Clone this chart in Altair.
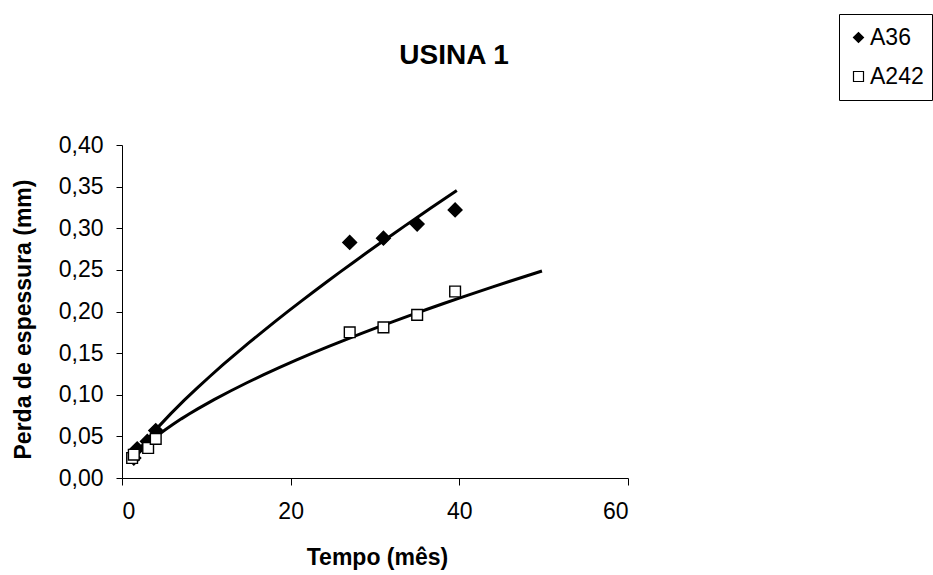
import altair as alt
import pandas as pd

# Data
a36_t = [1.4, 1.8, 3.0, 4.0, 27.0, 31.0, 35.0, 39.5]
a36_perda = [0.024, 0.035, 0.044, 0.057, 0.283, 0.288, 0.305, 0.322]
a242_t = [1.2, 1.4, 3.1, 4.0, 27.0, 31.0, 35.0, 39.5]
a242_perda = [0.024, 0.028, 0.036, 0.047, 0.175, 0.181, 0.196, 0.224]
series = ["A36", "A242"]
x_ticks = [0, 20, 40, 60]
y_ticks = [0.0, 0.05, 0.10, 0.15, 0.20, 0.25, 0.30, 0.35, 0.40]

df = pd.DataFrame(
    {
        "t": a36_t + a242_t,
        "perda": a36_perda + a242_perda,
        "serie": [series[0]] * len(a36_t) + [series[1]] * len(a242_t),
    }
)

FONT = "Liberation Sans"

x_enc = alt.X(
    "t:Q",
    scale=alt.Scale(domain=[0, 60], nice=False, zero=False),
    axis=alt.Axis(
        values=x_ticks,
        grid=False,
        tickSize=7,
        labelFontSize=23,
        labelPadding=15,
        title="Tempo (mês)",
        titleFontSize=23,
        titleFontWeight="bold",
        titleX=255,
        titleY=86,
        titleBaseline="alphabetic",
        titleAlign="center",
    ),
)
y_enc = alt.Y(
    "perda:Q",
    scale=alt.Scale(domain=[0, 0.4], nice=False),
    axis=alt.Axis(
        values=y_ticks,
        grid=False,
        tickSize=6,
        labelFontSize=23,
        labelPadding=13,
        labelExpr="replace(format(datum.value, '.2f'), '.', ',')",
        title="Perda de espessura (mm)",
        titleFontSize=23,
        titleFontWeight="bold",
        titleAngle=270,
        titleX=-99,
        titleY=174,
        titleBaseline="middle",
        titleAlign="center",
    ),
)

legend = alt.Legend(
    title=None,
    orient="none",
    legendX=717,
    legendY=-131,
    symbolStrokeColor="black",
    symbolStrokeWidth=1.2,
)
shape_enc = alt.Shape(
    "serie:N",
    scale=alt.Scale(domain=series, range=["diamond", "square"]),
    legend=legend,
)
fill_enc = alt.Fill(
    "serie:N",
    scale=alt.Scale(domain=series, range=["black", "white"]),
    legend=legend,
)
stroke_enc = alt.Stroke(
    "serie:N",
    scale=alt.Scale(domain=series, range=["black", "black"]),
    legend=legend,
)


def point_layer(name, size):
    return (
        alt.Chart(df)
        .transform_filter(alt.datum.serie == name)
        .mark_point(filled=True, strokeWidth=1.4, opacity=1, size=size)
        .encode(x=x_enc, y=y_enc, shape=shape_enc, fill=fill_enc, stroke=stroke_enc)
    )


def trend_layer(name, extent):
    return (
        alt.Chart(df)
        .transform_filter(alt.datum.serie == name)
        .transform_regression("t", "perda", method="pow", extent=extent)
        .mark_line(color="black", strokeWidth=3)
        .encode(x=x_enc, y=y_enc)
    )


chart = (
    alt.layer(
        trend_layer("A36", [1.2, 39.7]),
        trend_layer("A242", [1.2, 49.8]),
        point_layer("A36", 190),
        point_layer("A242", 115),
    )
    .properties(
        width=506,
        height=333,
        title=alt.TitleParams(
            "USINA 1",
            fontSize=28,
            fontWeight="bold",
            font=FONT,
            anchor="middle",
            dx=79,
            offset=-78,
            baseline="alphabetic",
        ),
        autosize=alt.AutoSizeParams(type="none"),
        padding={"left": 122, "top": 145, "right": 305, "bottom": 97},
    )
    .configure(font=FONT, background="white")
    .configure_view(stroke=None)
    .configure_axis(
        domainColor="black",
        tickColor="black",
        labelColor="black",
        titleColor="black",
        labelFont=FONT,
        titleFont=FONT,
        domainWidth=1,
        tickWidth=1,
    )
    .configure_legend(
        labelFontSize=23,
        labelFont=FONT,
        labelColor="black",
        labelOffset=0,
        symbolSize=100,
        symbolStrokeColor="black",
        symbolStrokeWidth=1.2,
        clipHeight=31,
        rowPadding=8,
        padding=8,
        strokeColor="black",
        fillColor="white",
        cornerRadius=0,
    )
)

chart.save("out.html", embed_options={"renderer": "svg", "actions": False})
